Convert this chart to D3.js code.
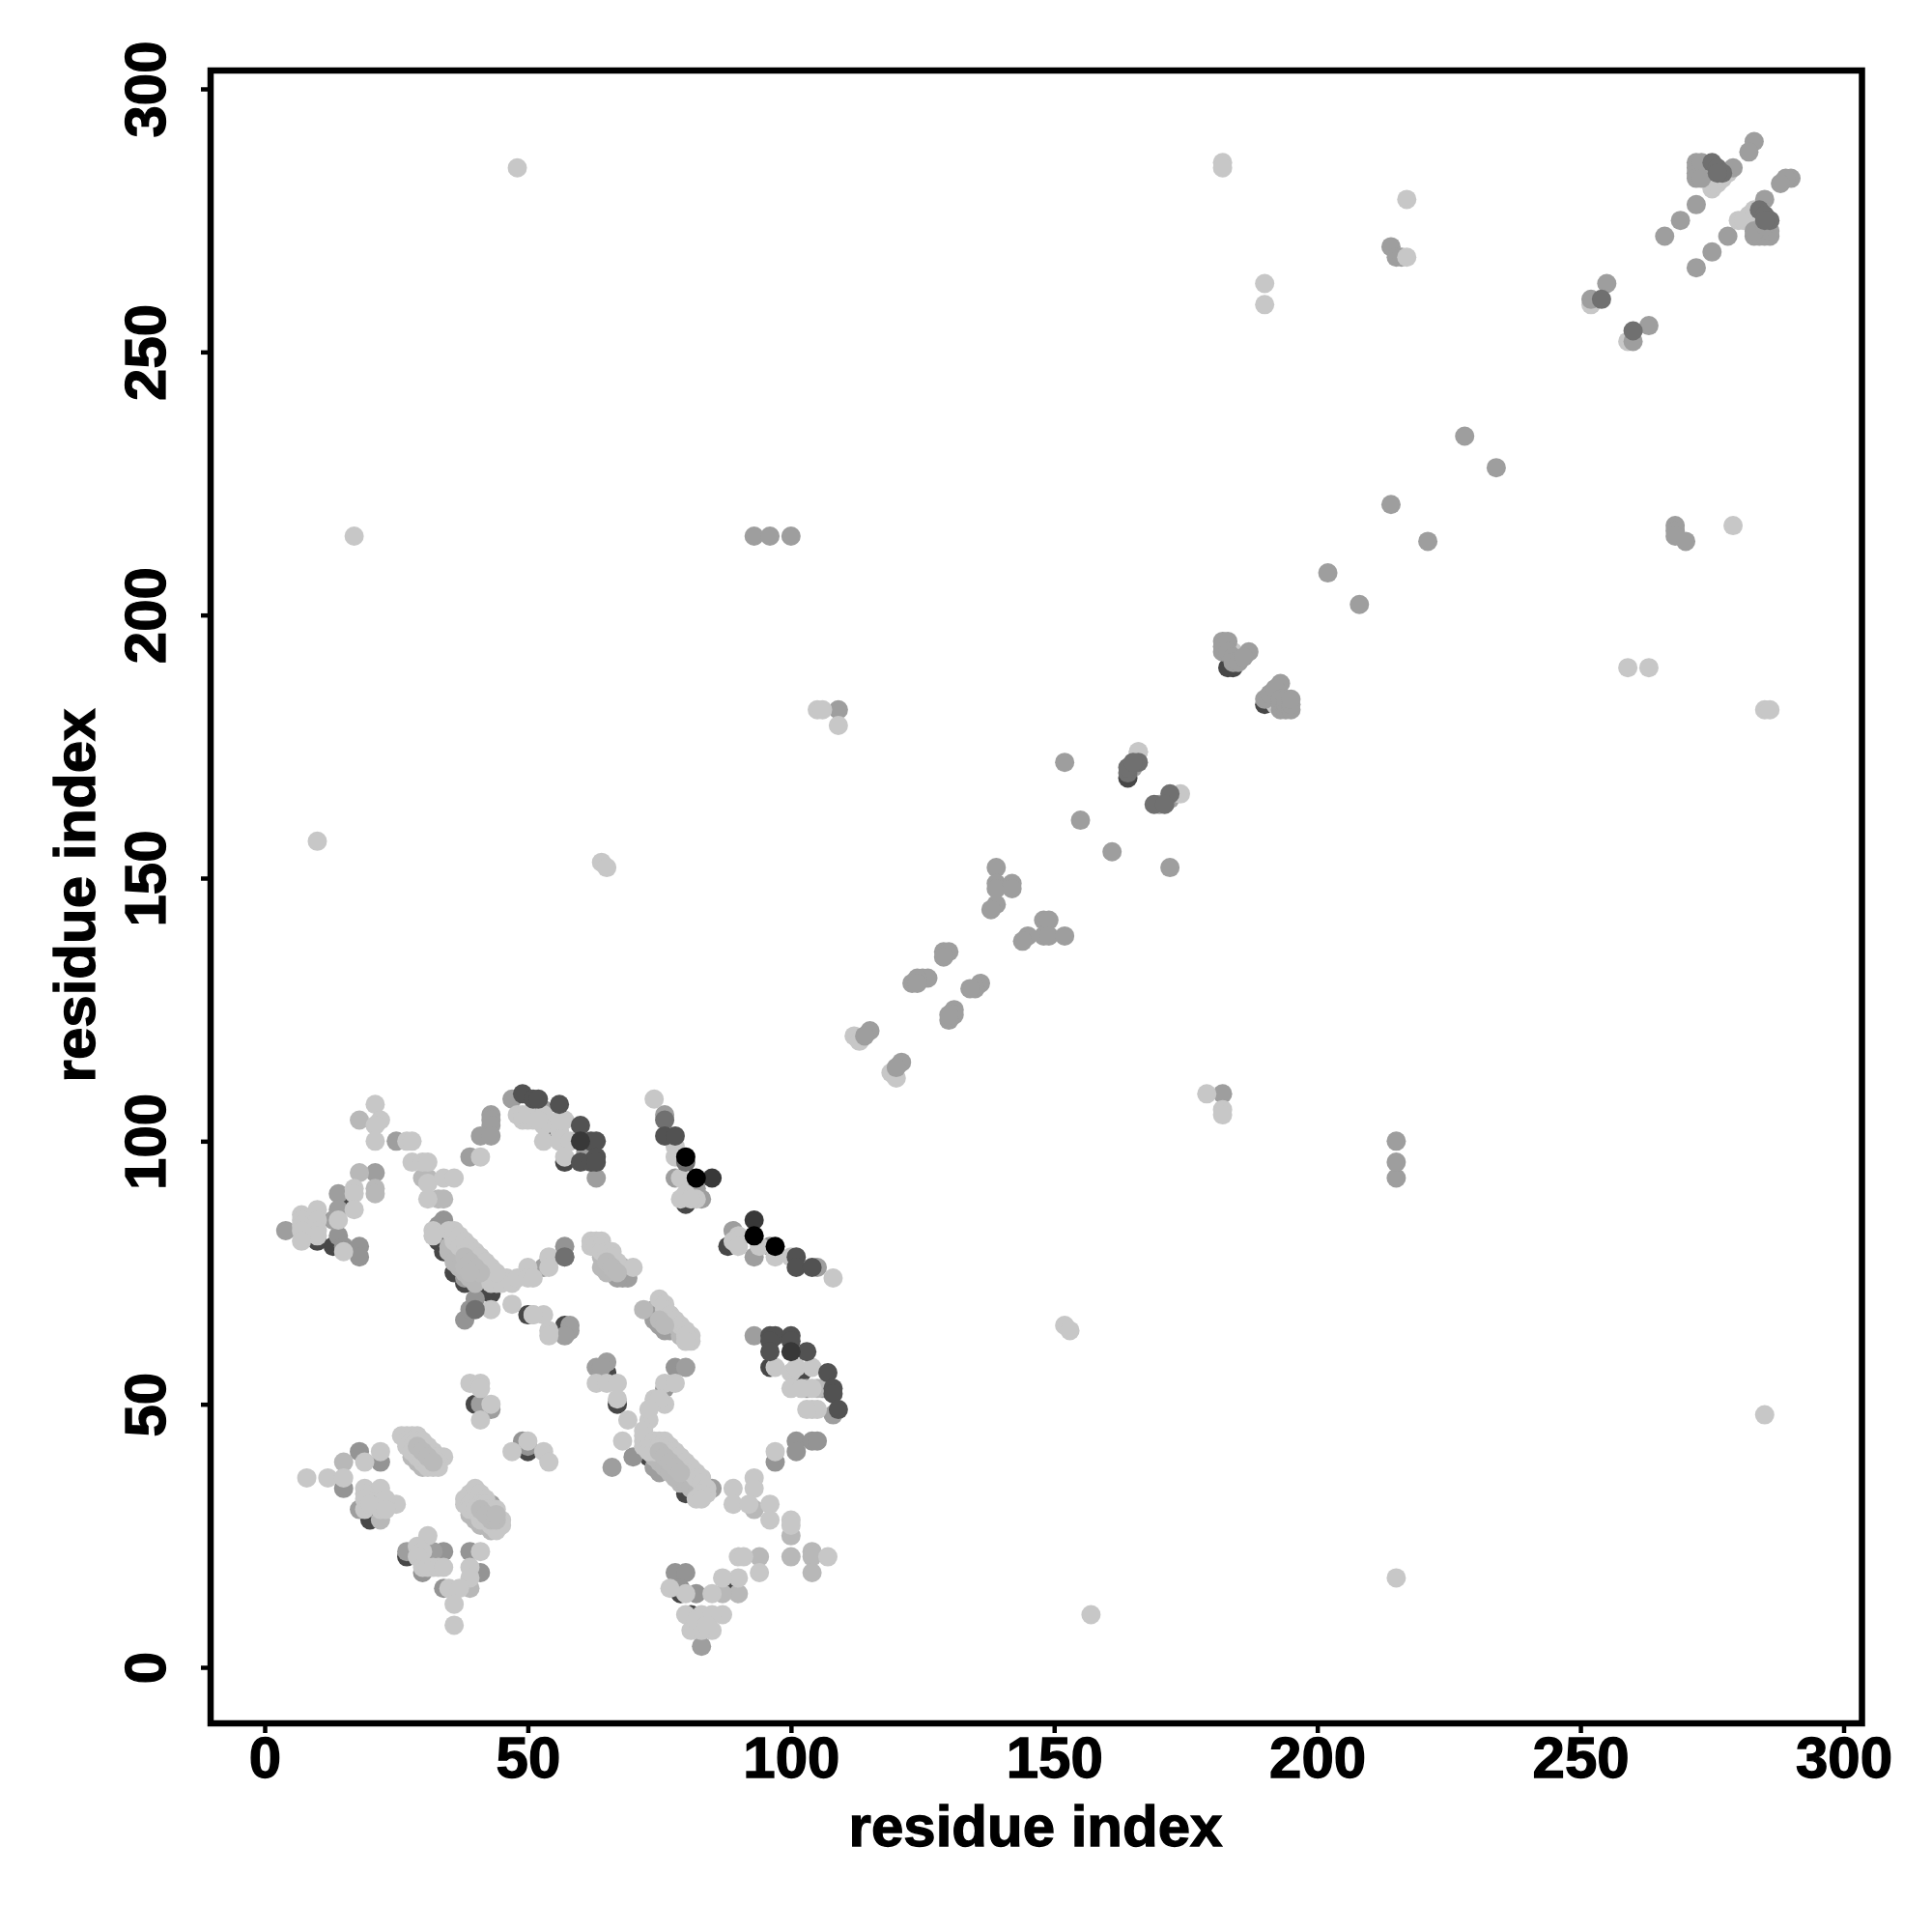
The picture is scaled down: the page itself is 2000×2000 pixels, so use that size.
<!DOCTYPE html>
<html><head><meta charset="utf-8">
<script src="https://cdnjs.cloudflare.com/ajax/libs/d3/7.8.5/d3.min.js"></script>
<style>html,body{margin:0;padding:0;background:#fff}svg{display:block}
text{font-family:"Liberation Sans",Arial,sans-serif;font-weight:bold;fill:#000;stroke:#000;stroke-width:1.3px}</style>
</head><body><svg id="c" width="2000" height="2000"></svg>
<script>
const xTicks=[0,50,100,150,200,250,300];
const yTicks=[0,50,100,150,200,250,300];
const axisTitle="residue index";
// layers in drawing order; score 0..1 maps to grey
const layerScores=[0.72,0.22,0.42,0.38,0.28,0.22,0.27,0.56,0.68,0.78,1.0];
const darkUnder=[[10,81],[16,89],[13,80],[33,82],[33,81],[34,79],[43,71],[42,72],[20,28],[27,21],[55,102],[79,14],[81,10],[89,16],[102,56],[80,33],[81,33],[73,40],[50,41],[40,50],[88,80],[80,88],[57,65],[184,190],[183,190],[190,183],[191,184],[164,169],[57,96],[67,50],[65,56],[75,38],[96,57],[50,67],[36,75],[38,73]];
const lightUnder=[[112,120],[113,119],[119,113],[120,112],[252,259],[259,252],[280,275],[281,275],[282,276],[283,277],[275,281],[276,282],[277,283],[278,284],[184,193],[192,183],[166,174]];
const midDark=[[38,66],[39,68],[40,70],[50,42],[49,43],[57,80],[57,78],[18,41],[22,39],[34,85],[33,84],[14,82],[15,80],[18,80],[18,78],[41,18],[39,22],[34,15],[30,18],[78,18],[80,18],[79,15],[82,14],[78,57],[70,40],[101,43],[101,41],[104,43],[105,43],[97,39],[76,53],[96,80],[34,22],[15,34]];
const midGrey=[[4,83],[14,90],[14,87],[13,85],[21,94],[25,100],[43,105],[43,104],[43,103],[41,101],[43,101],[39,97],[47,108],[53,106],[61,98],[63,93],[76,105],[78,93],[83,89],[82,91],[89,83],[93,78],[105,76],[93,63],[74,68],[74,67],[74,66],[75,66],[75,65],[76,65],[76,64],[77,64],[75,67],[76,66],[77,65],[78,64],[66,75],[67,75],[68,74],[69,74],[67,74],[68,76],[67,76],[58,65],[58,64],[57,63],[65,58],[63,57],[64,57],[80,57],[43,49],[41,50],[66,38],[85,34],[83,4],[21,32],[18,30],[53,76],[108,48],[103,53],[106,53],[32,22],[27,22],[43,31],[74,38],[75,37],[37,76],[38,74],
[93,215],[96,215],[100,215],[215,93],[215,96],[215,100],[109,182],[182,109],[268,217],[268,216],[268,215],[270,214],[214,270],[215,268],[216,268],[228,234],[234,228],[214,221],[221,214],[202,208],[208,202],[187,193],[182,195],[183,195],[182,194],[182,193],[183,193],[184,192],[184,191],[185,191],[186,192],[193,187],[190,184],[191,185],[192,186],[193,182],[193,183],[193,184],[194,182],[194,183],[194,184],[195,182],[195,183],[195,184],[152,172],[155,161],[161,155],[172,152],[139,152],[139,149],[139,148],[142,149],[142,148],[139,145],[138,144],[148,142],[149,142],[148,139],[149,139],[152,139],[145,139],[144,138],[129,136],[130,136],[129,135],[125,131],[126,131],[124,131],[123,130],[124,130],[136,130],[135,129],[134,129],[131,125],[131,124],[130,123],[130,124],[115,121],[114,120],[121,115],[120,114],[283,290],[282,288],[279,285],[272,286],[272,285],[272,284],[272,283],[273,286],[273,283],[272,278],[269,275],[266,272],[255,263],[252,260],[263,255],[260,252],[290,283],[289,283],[288,282],[285,279],[283,272],[284,272],[285,272],[286,272],[283,273],[286,273],[285,274],[278,272],[275,269],[272,266],[172,165],[170,164],[165,171]];
const softGrey=[[18,104],[18,94],[21,91],[21,90],[31,93],[30,93],[33,89],[34,89],[15,39],[22,28],[39,15],[100,25],[93,30],[100,21],[104,22],[104,21],[104,18],[94,21],[90,14],[87,14],[36,78],[37,77],[38,76],[39,75],[40,74],[35,80],[36,79],[37,79],[38,78],[39,77],[40,76],[41,75],[42,74],[35,79],[36,77],[37,76],[38,75],[39,74],[40,73],[74,40],[75,40],[76,39],[77,39],[78,37],[77,38],[76,40],[75,41],[79,37],[80,36],[28,40],[29,39],[30,38],[39,29],[40,28],[41,27],[42,27],[43,26],[72,68],[76,68],[77,67],[78,65],[79,63],[80,62],[64,78],[65,77],[65,76],[66,76],[105,53],[65,75],[64,76],[75,39],[76,38],[77,37],[78,36],[79,35],[80,35],[81,34],[82,33]];
const light=[[21,107],[22,104],[21,103],[21,100],[27,100],[28,100],[28,96],[30,96],[31,96],[31,92],[34,93],[36,93],[31,89],[17,91],[17,90],[17,87],[14,85],[10,87],[10,85],[10,83],[10,82],[7,86],[7,85],[7,84],[7,83],[7,81],[15,79],[43,68],[47,69],[51,67],[32,83],[32,82],[35,83],[36,82],[37,81],[38,80],[39,79],[40,78],[41,77],[42,76],[43,75],[44,74],[36,81],[37,80],[38,79],[39,78],[40,77],[41,76],[42,75],[43,74],[44,73],[43,73],[45,73],[47,73],[46,74],[48,74],[50,76],[50,74],[51,74],[54,78],[54,76],[41,97],[48,105],[49,104],[50,104],[51,104],[49,105],[50,105],[53,103],[53,105],[53,100],[56,102],[56,100],[57,104],[58,100],[57,97],[56,104],[52,104],[36,83],[37,82],[38,81],[39,80],[40,79],[41,78],[42,77],[43,76],[44,75],
[62,81],[63,81],[64,81],[62,80],[63,80],[64,80],[64,79],[65,79],[66,79],[66,78],[67,77],[70,76],[75,70],[76,69],[76,68],[77,67],[78,66],[79,65],[80,64],[81,63],[80,63],[81,62],[80,62],[74,108],[78,99],[78,97],[79,93],[80,90],[79,89],[82,89],[81,89],[90,82],[89,81],[90,80],[94,80],[97,78],[100,78],[108,74],[54,64],[53,67],[51,67],[54,63],[97,57],[100,56],[101,57],[104,57],[100,53],[104,53],[104,49],[105,49],[102,53],[103,49],
[63,54],[65,54],[67,54],[67,51],[69,47],[68,43],[76,54],[78,54],[74,51],[76,50],[75,51],[73,47],[73,49],[72,45],[72,43],[72,44],[72,42],[73,42],[73,41],[74,41],[74,43],[75,43],[75,42],[76,43],[76,42],[77,42],[77,41],[78,41],[78,40],[79,40],[79,39],[80,39],[80,38],[81,38],[81,37],[82,37],[82,36],[83,36],[83,35],[84,34],[84,33],[83,33],[82,32],[83,32],[89,34],[89,31],[93,36],[93,34],[92,31],[96,31],[96,28],[100,28],[100,27],[97,41],[107,21],[90,21],[91,21],[94,18],[90,17],[87,17],[85,14],[80,14],[77,15],[87,10],[85,10],[83,10],[80,10],[81,7],[85,7],[83,7],[82,9],[84,8],
[39,54],[41,54],[41,53],[43,50],[41,47],[50,43],[47,41],[53,41],[54,39],[26,44],[27,44],[28,44],[29,44],[27,43],[28,43],[29,43],[30,43],[27,42],[28,42],[29,42],[30,42],[31,42],[28,41],[29,41],[30,41],[31,41],[32,41],[29,40],[30,40],[31,40],[32,40],[33,40],[34,40],[30,39],[31,39],[32,39],[33,39],[31,38],[32,38],[33,38],[38,32],[39,33],[40,34],[41,33],[42,32],[38,31],[39,31],[40,31],[41,31],[42,31],[39,30],[40,30],[41,30],[42,30],[43,30],[44,30],[41,29],[42,29],[43,29],[41,28],[42,28],[43,28],[44,28],[45,28],[43,27],[44,27],[45,27],[44,26],
[8,36],[12,36],[19,39],[22,41],[15,36],[19,34],[22,34],[19,33],[19,32],[19,30],[22,30],[25,31],[23,32],[20,31],[23,30],[31,25],[29,23],[30,22],[29,21],[30,19],[31,19],[32,19],[33,19],[34,19],[41,22],[39,19],[39,17],[35,15],[37,15],[36,12],[36,8],
[48,285],[285,48],[182,286],[182,285],[285,182],[286,182],[217,279],[279,217],[190,263],[190,259],[259,190],[263,190],[17,215],[215,17],[105,182],[106,182],[109,179],[179,109],[182,106],[182,105],[10,157],[157,10],[64,153],[65,152],[152,65],[153,64],[217,268],[174,166],[166,174]];
const softTop=[[29,42],[30,41],[31,40],[32,39],[41,30],[42,29],[43,28],[44,28],[44,29],[38,78],[39,77],[40,76],[41,75],[38,76],[39,75],[75,41],[76,40],[77,39],[78,38],[79,37],[65,77],[66,76],[67,75],[75,66],[76,65]];
const darkTone=[[76,104],[80,96],[57,78],[40,68],[172,166],[169,164],[171,164],[164,170],[164,171],[254,260],[260,254],[275,286],[276,285],[277,284],[276,284],[284,277],[285,276],[286,275],[285,275],[166,172],[165,172]];
const deep=[[49,109],[51,108],[52,108],[56,107],[60,103],[62,100],[63,100],[60,96],[62,96],[63,97],[63,96],[76,101],[78,101],[101,78],[101,76],[104,76],[96,63],[97,63],[100,63],[100,62],[96,62],[96,60],[103,60],[107,56],[108,53],[108,52],[109,49]];
const nearBlack=[[60,100],[85,93],[93,85],[100,60]];
const blackest=[[80,97],[82,93],[93,82],[97,80]];
const layers=[darkUnder,lightUnder,midDark,midGrey,softGrey,light,softTop,darkTone,deep,nearBlack,blackest];

const svg=d3.select("#c");
const xRange=[274,1908.5], yRange=[1726,92];
const x=d3.scaleLinear().domain([0,300]).range(xRange);
const y=d3.scaleLinear().domain([0,300]).range(yRange);
const grey=d3.scaleLinear().domain([0,1]).range(["#ffffff","#000000"]);
const frame={l:218,t:73,r:1927.5,b:1784};

layers.forEach((pts,i)=>{
  svg.append("g").selectAll("circle").data(pts).join("circle")
    .attr("cx",d=>x(d[0])).attr("cy",d=>y(d[1])).attr("r",10)
    .attr("fill",grey(layerScores[i]));
});
svg.append("rect").attr("x",frame.l).attr("y",frame.t)
  .attr("width",frame.r-frame.l).attr("height",frame.b-frame.t)
  .attr("fill","none").attr("stroke","#000").attr("stroke-width",6.5);

const ax=svg.append("g").attr("transform",`translate(0,${frame.b})`)
  .call(d3.axisBottom(x).tickValues(xTicks).tickFormat(d3.format("d")).tickSize(10).tickPadding(0));
ax.select(".domain").remove();
ax.selectAll("line").attr("stroke","#000").attr("stroke-width",4.5);
ax.selectAll("text").attr("y",56).attr("dy",0).style("font-size","60px").attr("font-family",null);
const ay=svg.append("g").attr("transform",`translate(${frame.l},0)`)
  .call(d3.axisLeft(y).tickValues(yTicks).tickFormat(d3.format("d")).tickSize(10));
ay.select(".domain").remove();
ay.selectAll("line").attr("stroke","#000").attr("stroke-width",4.5);
ay.selectAll("text").attr("x",null).attr("dy",0).attr("text-anchor","middle")
  .attr("transform","translate(-47,0) rotate(-90)").attr("y",0).style("font-size","60px");
svg.append("text").attr("x",1072).attr("y",1911).attr("text-anchor","middle").style("font-size","60px").text(axisTitle);
svg.append("text").attr("transform","translate(98,927) rotate(-90)").attr("text-anchor","middle").style("font-size","60px").text(axisTitle);
</script></body></html>
